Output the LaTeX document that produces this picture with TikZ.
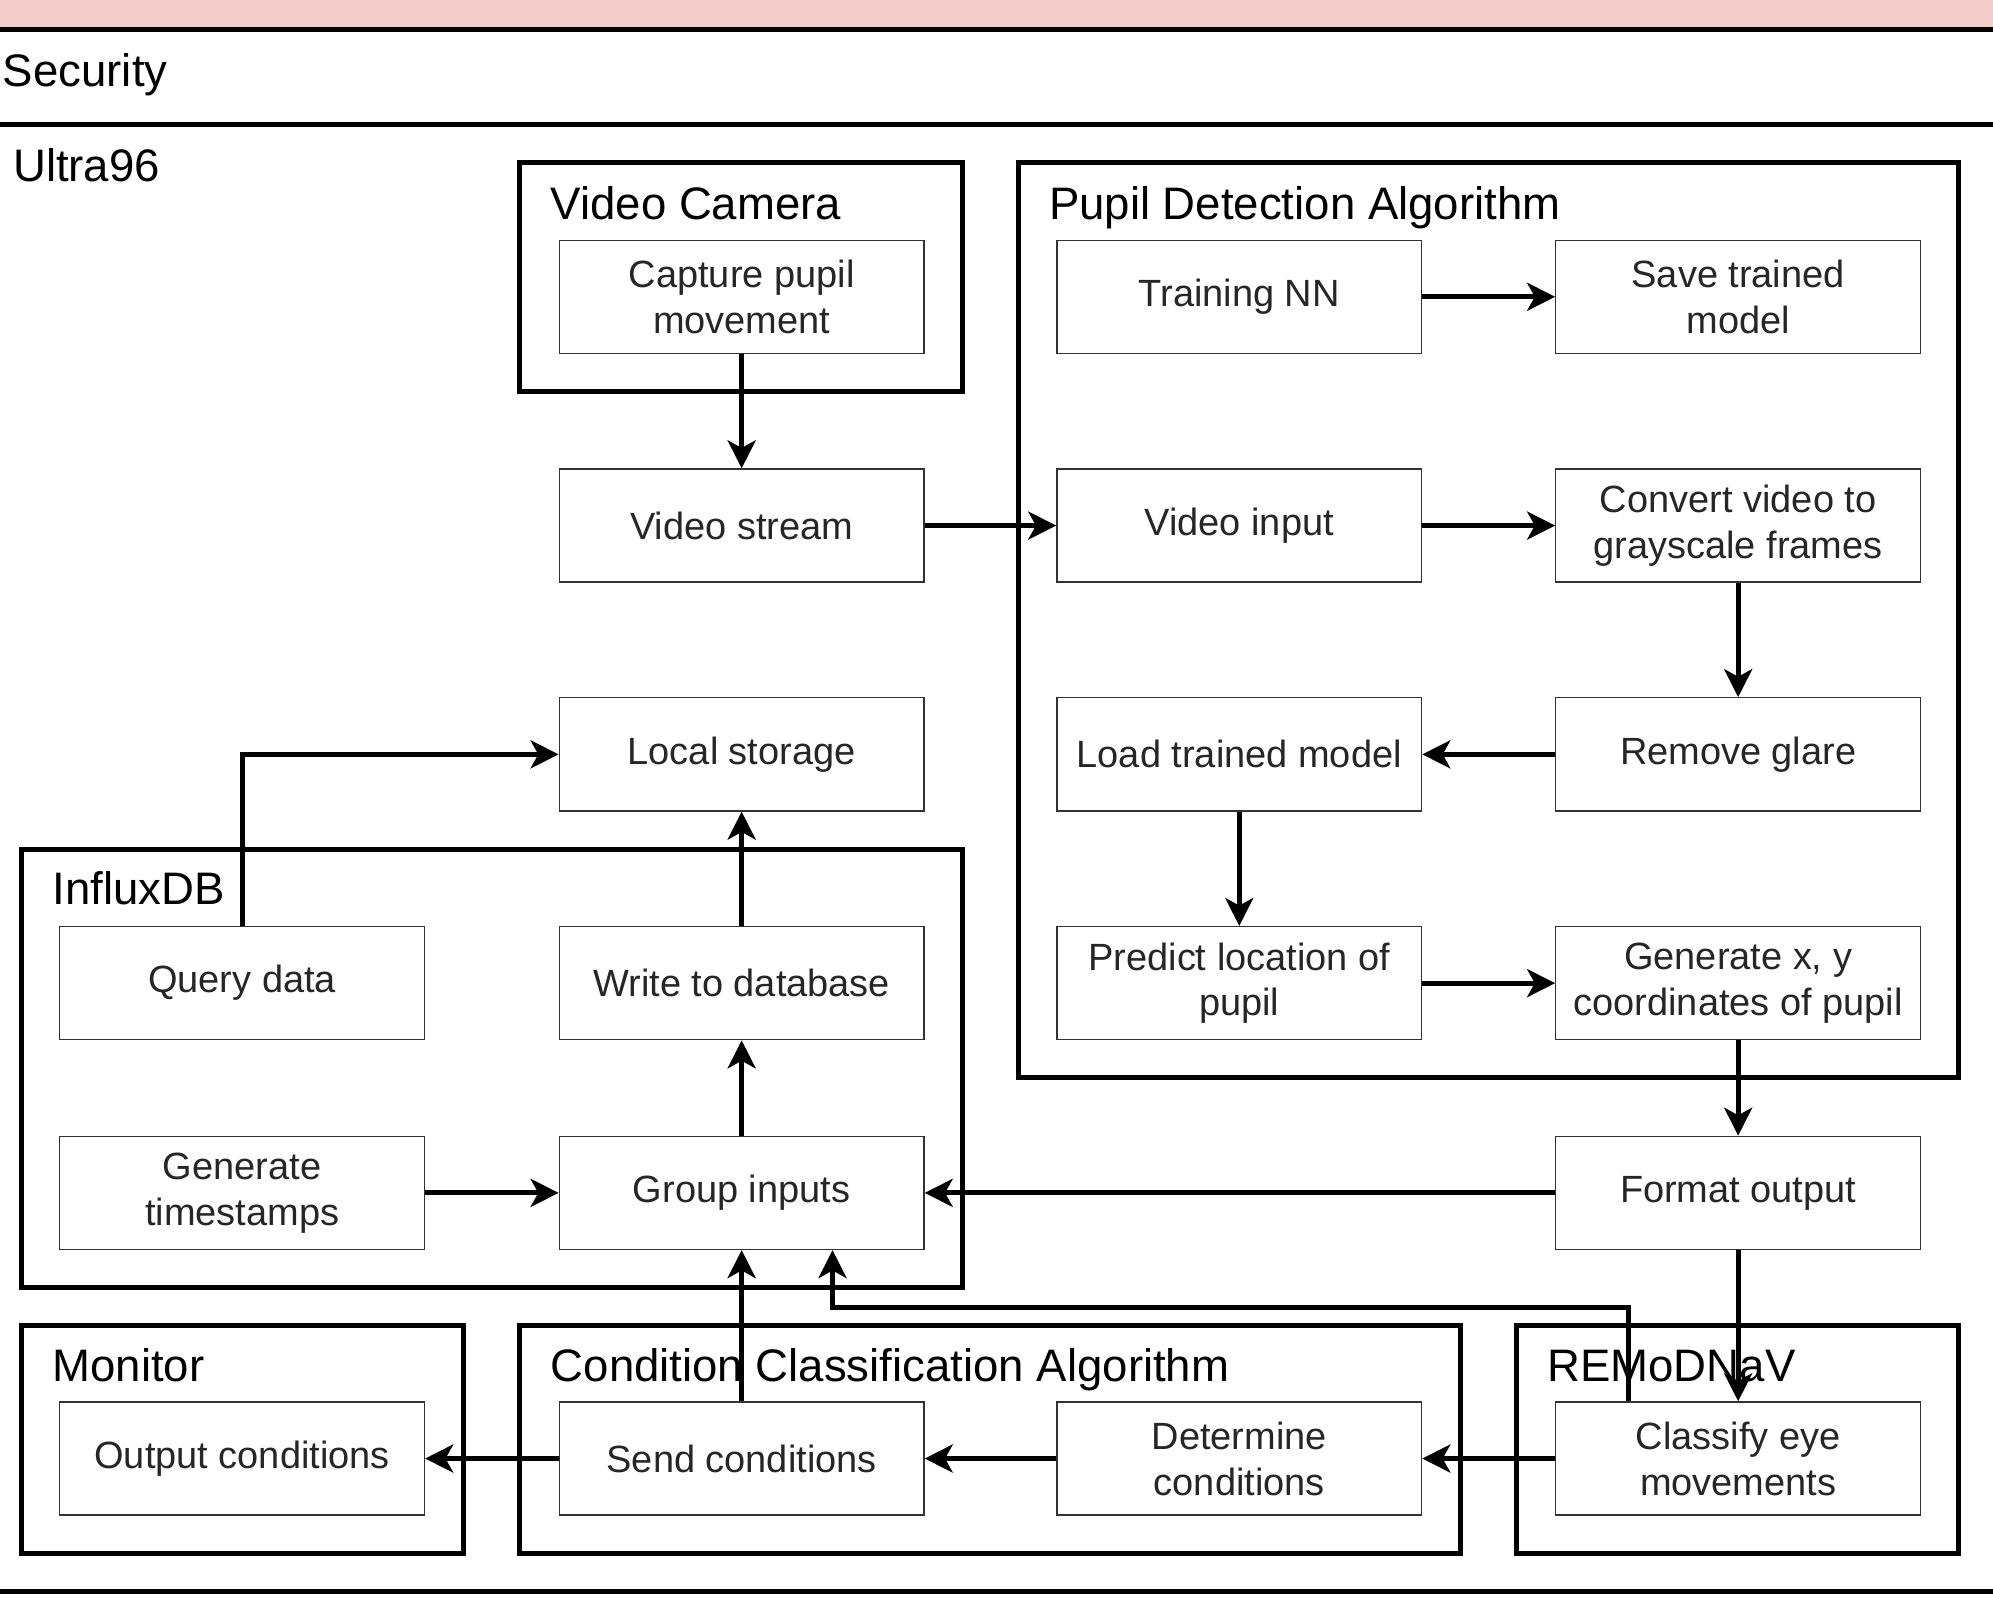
\documentclass[tikz,border=0pt]{standalone}
\usepackage{fontspec}
\setmainfont{Liberation Sans}
\usetikzlibrary{positioning}
\usetikzlibrary{arrows.meta}
\definecolor{bandpink}{HTML}{F4CCCC}

\begin{document}
\begin{tikzpicture}[
        x = 0.02cm, y = -0.02cm, % one unit per pixel of the sketch
        box/.style = {draw=black!80, line width=0.6pt, minimum width=5.74cm,
                      minimum height=1.78cm, inner sep=0pt, align=center,
                      text=black!85, font=\fontsize{17}{20.5}\selectfont},
        frame/.style = {line width=2.2pt}, % container outline
        title/.style = {anchor=base west, inner sep=0pt,
                        font=\fontsize{20.4}{24}\selectfont},
        arr/.style = {-{Stealth[length=0.44cm, width=0.44cm, inset=0.12cm]},
                      line width=2.2pt}
        ]

  \useasboundingbox (0,0) rectangle (1568,1264);
  \clip (0,0) rectangle (1568,1264);

  % bands
  \fill[bandpink] (0,0) rectangle (1568,23);
  \draw[line width=2.4pt] (0,23) -- (1568,23);
  \draw[line width=2.4pt] (0,98) -- (1568,98);
  \draw[line width=2.4pt] (0,1252) -- (1568,1252);
  \node[title] (tsec) at (2,68) {Security};
  \node[title] (tultra) at (10,143) {Ultra96};

  % containers
  \draw[frame] (409,128) rectangle (757,308);
  \node[title] (tcam) at (433,173) {Video Camera};
  \draw[frame] (801,128) rectangle (1541,848);
  \node[title] (tpupil) at (825,173) {Pupil Detection Algorithm};
  \draw[frame] (17,668) rectangle (757,1013);
  \node[title] (tinflux) at (41,712) {InfluxDB};
  \draw[frame] (17,1043) rectangle (365,1222);
  \node[title] (tmon) at (41,1087) {Monitor};
  \draw[frame] (409,1043) rectangle (1149,1222);
  \node[title] (tcond) at (433,1087) {Condition Classification Algorithm};
  \draw[frame] (1193,1043) rectangle (1541,1222);
  \node[title] (tremo) at (1217,1087) {REMoDNaV};

  % steps
  \node[box] (capture) at (583.5,233.5) {Capture pupil\\movement};
  \node[box] (vstream) at (583.5,413.5) {Video stream};
  \node[box] (store) at (583.5,593.5) {Local storage};
  \node[box] (query) at (190.5,773.5) {Query data};
  \node[box] (write) at (583.5,773.5) {Write to database};
  \node[box] (stamps) at (190.5,938.5) {Generate\\timestamps};
  \node[box] (group) at (583.5,938.5) {Group inputs};

  \node[box] (train) at (975,233.5) {Training NN};
  \node[box] (save) at (1367.5,233.5) {Save trained\\model};
  \node[box] (vinput) at (975,413.5) {Video input};
  \node[box] (gray) at (1367.5,413.5) {Convert video to\\grayscale frames};
  \node[box] (load) at (975,593.5) {Load trained model};
  \node[box] (glare) at (1367.5,593.5) {Remove glare};
  \node[box] (predict) at (975,773.5) {Predict location of\\pupil};
  \node[box] (genxy) at (1367.5,773.5) {Generate x, y\\coordinates of pupil};
  \node[box] (format) at (1367.5,938.5) {Format output};

  \node[box] (outcond) at (190.5,1147.5) {Output conditions};
  \node[box] (sendcond) at (583.5,1147.5) {Send conditions};
  \node[box] (detcond) at (975,1147.5) {Determine\\conditions};
  \node[box] (classify) at (1367.5,1147.5) {Classify eye\\movements};

  \coordinate (up1) at (1281,1029);
  \coordinate (up2) at (655,1029);

  % flow
  \draw[arr] (capture) -- (vstream);
  \draw[arr] (vstream) -- (vinput);
  \draw[arr] (train) -- (save);
  \draw[arr] (vinput) -- (gray);
  \draw[arr] (gray) -- (glare);
  \draw[arr] (glare) -- (load);
  \draw[arr] (load) -- (predict);
  \draw[arr] (predict) -- (genxy);
  \draw[arr] (genxy) -- (format);
  \draw[arr] (format) -- (group);
  \draw[arr] (format) -- (classify);
  \draw[arr] (stamps) -- (group);
  \draw[arr] (group) -- (write);
  \draw[arr] (write) -- (store);
  \draw[arr] (query.north) |- (store.west);
  \draw[arr] (sendcond) -- (group);
  \draw[arr] (classify.north -| up1) -- (up1) -- (up2) -- (group.south -| up2);
  \draw[arr] (classify) -- (detcond);
  \draw[arr] (detcond) -- (sendcond);
  \draw[arr] (sendcond) -- (outcond);

\end{tikzpicture}
\end{document}
